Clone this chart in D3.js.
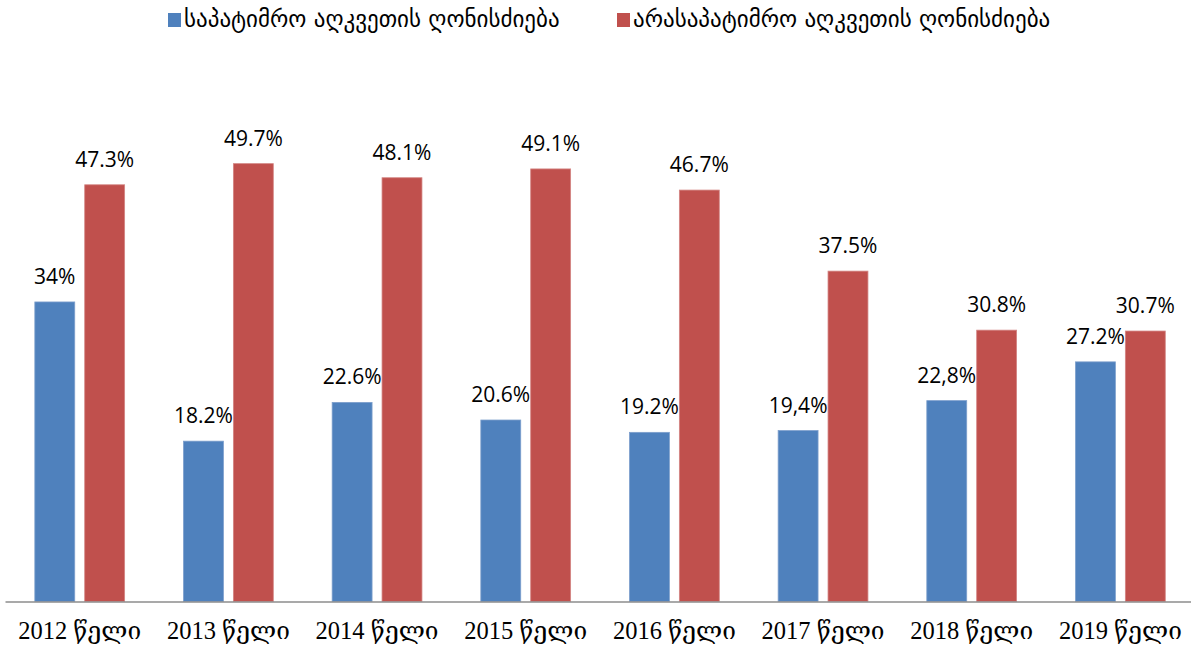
<!DOCTYPE html>
<html>
<head>
<meta charset="utf-8">
<script src="https://cdn.jsdelivr.net/npm/d3@7"></script>
<style>
  html, body { margin: 0; padding: 0; background: #fff; }
  svg { display: block; }
</style>
</head>
<body>
<svg id="chart" width="1191" height="656"></svg>
<script>
const categories = ["2012 წელი", "2013 წელი", "2014 წელი", "2015 წელი", "2016 წელი", "2017 წელი", "2018 წელი", "2019 წელი"];
const seriesNames = ["საპატიმრო აღკვეთის ღონისძიება", "არასაპატიმრო აღკვეთის ღონისძიება"];
const custodialValues = [34, 18.2, 22.6, 20.6, 19.2, 19.4, 22.8, 27.2];
const nonCustodialValues = [47.3, 49.7, 48.1, 49.1, 46.7, 37.5, 30.8, 30.7];
const custodialLabels = ["34%", "18.2%", "22.6%", "20.6%", "19.2%", "19,4%", "22,8%", "27.2%"];
const nonCustodialLabels = ["47.3%", "49.7%", "48.1%", "49.1%", "46.7%", "37.5%", "30.8%", "30.7%"];
const colors = ["#4F81BD", "#C0504D"];
const strokes = ["#7d9fcc", "#d38583"];

const svg = d3.select("#chart");
const baseY = 601.5;

const x = d3.scaleBand().domain(categories).range([5.4, 1194.7]).paddingInner(0).paddingOuter(0);
const xs = d3.scaleBand().domain([0, 1]).range([0, x.bandwidth()]).paddingInner(0.2).paddingOuter(0.59);
const y = d3.scaleLinear().domain([0, 60]).range([baseY, baseY - 60 * 8.81]);

const series = [
  { values: custodialValues, labels: custodialLabels },
  { values: nonCustodialValues, labels: nonCustodialLabels }
];

series.forEach((s, si) => {
  const g = svg.append("g");
  g.selectAll("rect").data(s.values).join("rect")
    .attr("x", (d, i) => x(categories[i]) + xs(si))
    .attr("y", d => y(d))
    .attr("width", xs.bandwidth())
    .attr("height", d => baseY - y(d))
    .attr("fill", colors[si])
    .attr("stroke", strokes[si])
    .attr("stroke-width", 0.8);
  g.selectAll("text").data(s.values).join("text")
    .attr("x", (d, i) => x(categories[i]) + xs(si) + xs.bandwidth() / 2)
    .attr("y", d => y(d) - 18)
    .attr("text-anchor", "middle")
    .attr("font-family", "'Open Sans', 'DejaVu Sans', sans-serif")
    .attr("font-size", 21)
    .attr("fill", "#000")
    .text((d, i) => s.labels[i]);
});

// x axis
const xAxis = d3.axisBottom(x).tickSize(0).tickPadding(0);
const ax = svg.append("g").attr("transform", `translate(0,${baseY})`).call(xAxis);
ax.select(".domain").remove();
ax.selectAll("text")
  .attr("y", 37)
  .attr("dy", 0)
  .attr("font-family", "'Liberation Serif', 'DejaVu Serif', serif")
  .attr("font-size", 24.5)
  .attr("fill", "#000");
svg.append("line")
  .attr("x1", 5.5).attr("x2", 1191)
  .attr("y1", baseY + 0.5).attr("y2", baseY + 0.5)
  .attr("stroke", "#8c8c8c").attr("stroke-width", 1.5);

// legend
const legendX = [168, 617];
const legend = svg.append("g");
seriesNames.forEach((name, i) => {
  legend.append("rect")
    .attr("x", legendX[i]).attr("y", 13)
    .attr("width", 13).attr("height", 14)
    .attr("fill", colors[i]);
  legend.append("text")
    .attr("x", legendX[i] + 16).attr("y", 27)
    .attr("font-family", "'DejaVu Sans', sans-serif")
    .attr("font-size", 23)
    .attr("fill", "#000")
    .text(name);
});
</script>
</body>
</html>
